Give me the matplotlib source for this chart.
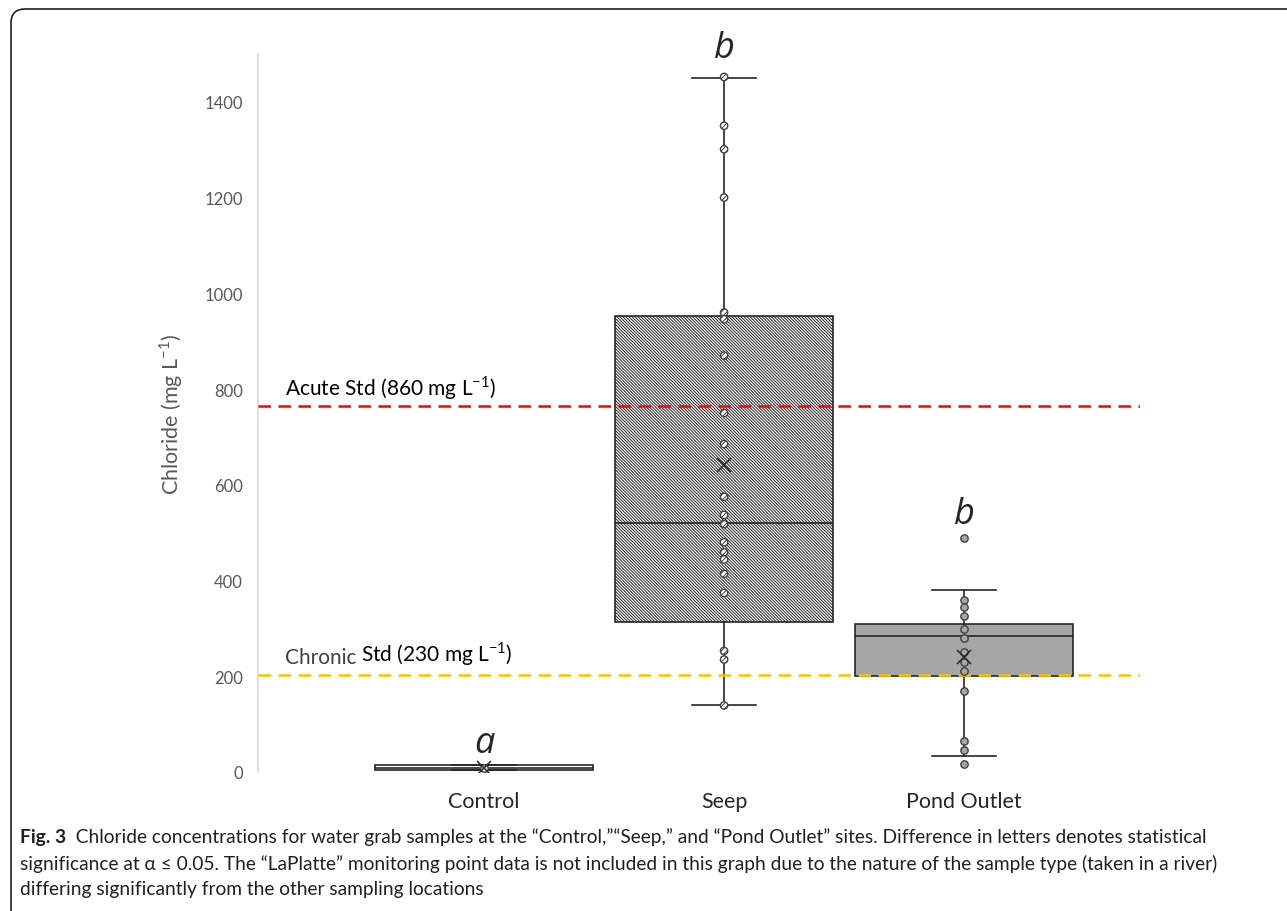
import matplotlib
matplotlib.use("Agg")
import matplotlib.pyplot as plt
from matplotlib.patches import FancyBboxPatch

plt.rcParams['font.family'] = ['Lato', 'DejaVu Sans']
plt.rcParams['mathtext.fontset'] = 'custom'
plt.rcParams['mathtext.rm'] = 'Lato'
plt.rcParams['hatch.linewidth'] = 0.7

### data
sites = ['Control', 'Seep', 'Pond Outlet']
letters = ['a', 'b', 'b']
whis_lo = [4, 140, 34]
q1 = [4, 314, 200]
medians = [8, 520, 284]
q3 = [14, 953, 309]
whis_hi = [14, 1450, 380]
means = [9, 641, 240]

control_pts = [8, 9]
seep_pts = [1452, 1350, 1301, 1200, 960, 946, 870, 750, 685, 575, 537, 518,
            480, 459, 444, 414, 374, 253, 235, 139]
pond_pts = [489, 359, 344, 325, 299, 279, 250, 229, 210, 169, 65, 47, 16]

acute_std = 765
chronic_std = 203

W, H = 1287, 912
fig = plt.figure(figsize=(W / 100, H / 100), dpi=100)
ax = fig.add_axes([258 / W, (H - 773) / H, (1140 - 258) / W, (773 - 55) / H])

stats = []
for i in range(len(sites)):
    stats.append(dict(label=sites[i], whislo=whis_lo[i], q1=q1[i], med=medians[i],
                      q3=q3[i], whishi=whis_hi[i], mean=means[i], fliers=[]))

bp = ax.bxp(stats, positions=[0, 1, 2], widths=0.91, capwidths=0.27,
            patch_artist=True, showmeans=True, showfliers=False,
            boxprops=dict(edgecolor='#262626', linewidth=1.2),
            medianprops=dict(color='#262626', linewidth=1.2),
            whiskerprops=dict(color='#262626', linewidth=1.2),
            capprops=dict(color='#262626', linewidth=1.2),
            meanprops=dict(marker='x', markeredgecolor='#262626', markersize=10,
                           markeredgewidth=1.1))
bp['boxes'][0].set_facecolor('white')
bp['boxes'][1].set_facecolor('white')
bp['boxes'][1].set_hatch('\\' * 11)
bp['boxes'][2].set_facecolor('#a6a6a6')
for m in bp['means']:
    m.set_zorder(5)

# raw points
ax.scatter([0] * len(control_pts), control_pts, s=28, facecolor='white',
           edgecolor='#404040', linewidth=1, zorder=4)
ax.scatter([1] * len(seep_pts), seep_pts, s=28, facecolor='white', hatch='//////',
           edgecolor='#404040', linewidth=1, zorder=4)
ax.scatter([2] * len(pond_pts), pond_pts, s=28, facecolor='#a6a6a6',
           edgecolor='#404040', linewidth=1, zorder=4)

# standards
ax.axhline(acute_std, color='#ff0000', linestyle=(0, (5, 3)), linewidth=1.8, zorder=3)
ax.axhline(chronic_std, color='#ffc000', linestyle=(0, (5, 3)), linewidth=1.8, zorder=3)
ax.text(-0.83, acute_std + 40, 'Acute Std (860 mg L$^{-1}$)', fontsize=15,
        color='black', va='center')
t1 = ax.text(-0.83, chronic_std + 37, 'Chronic', fontsize=15, color='#404040',
             va='center')
ax.annotate('Std (230 mg L$^{-1}$)', xy=(1, 0), xycoords=t1, xytext=(3, 0),
            textcoords='offset points', fontsize=15, color='black', va='bottom')

# letters above the highest mark
tops = [whis_hi[0], max(seep_pts), max(pond_pts)]
gaps = [3, 8, 4]
for i in range(len(sites)):
    ax.annotate(letters[i], xy=(i, tops[i]), xytext=(0, gaps[i]), textcoords='offset points',
                fontsize=26, style='italic', family='Open Sans', color='#262626',
                ha='center', va='bottom')

ax.set_xlim(-0.942, 2.733)
ax.set_ylim(0, 1500)
ax.set_yticks(range(0, 1401, 200))
ax.tick_params(axis='both', length=0)
ax.tick_params(axis='y', labelsize=12, labelcolor='#595959', pad=11)
ax.tick_params(axis='x', labelsize=15.5, labelcolor='#262626', pad=14)
ax.set_xticks([0, 1, 2])
ax.set_xticklabels(sites)
ax.set_ylabel('Chloride (mg L$^{-1}$)', fontsize=15.5, color='#595959')
ax.yaxis.set_label_coords(-0.083, 0.5)
for s in ['top', 'right', 'bottom']:
    ax.spines[s].set_visible(False)
ax.spines['left'].set_color('#d9d9d9')
ax.spines['left'].set_linewidth(1.2)

# caption
cap1 = ('  Chloride concentrations for water grab samples at the \u201cControl,\u201d\u201cSeep,\u201d '
        'and \u201cPond Outlet\u201d sites. Difference in letters denotes statistical')
cap2 = ('significance at \u03b1 \u2264 0.05. The \u201cLaPlatte\u201d monitoring point data is not '
        'included in this graph due to the nature of the sample type (taken in a river)')
cap3 = 'differing significantly from the other sampling locations'

c1 = fig.text(20 / W, 1 - 838 / H, 'Fig. 3', fontsize=13, weight='bold',
              color='#231f20', va='center')
c1b = ax.annotate(cap1, xy=(1, 0), xycoords=c1, fontsize=13, color='#231f20',
                  va='bottom', annotation_clip=False)
c2 = fig.text(20 / W, 1 - 864 / H, cap2, fontsize=13, color='#231f20', va='center')
c3 = fig.text(20 / W, 1 - 890 / H, cap3, fontsize=13, color='#231f20', va='center')

# fit caption line width to the reference (about 1186 px)
fig.canvas.draw()
r = fig.canvas.get_renderer()
w = c1.get_window_extent(r).width + c1b.get_window_extent(r).width
size = 13 * 1186 / w
for t in (c1, c1b, c2, c3):
    t.set_fontsize(size)

# frame around figure
frame = FancyBboxPatch((11, -20), 1320, H - 10 + 20,
                       boxstyle='round,pad=0,rounding_size=14',
                       transform=None, facecolor='none', edgecolor='#231f20',
                       linewidth=1.2)
fig.patches.append(frame)

fig.savefig('out.png', dpi=100)
